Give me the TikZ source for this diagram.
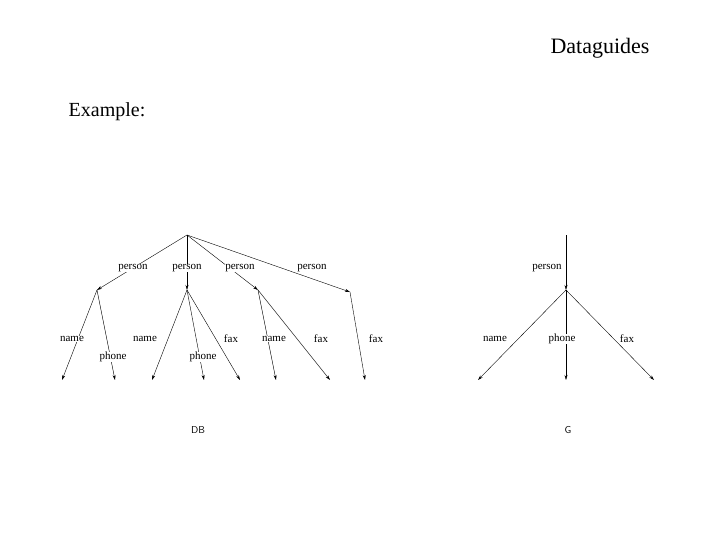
\documentclass[tikz,border=0pt]{standalone}
\usepackage{fontspec}
\usetikzlibrary{arrows.meta}
\setmainfont{Liberation Serif}
\begin{document}
\begin{tikzpicture}[x=1pt,y=-1pt,
  e/.style={-{Stealth[length=5pt,width=3pt]},line width=0.4pt},
  lb/.style={font=\fontsize{11}{12}\selectfont,inner sep=0pt},
  pt/.style={inner sep=0pt,minimum size=0pt}]
\useasboundingbox (0,0) rectangle (720,540);
\node[font=\fontsize{22}{24}\selectfont] (title) at (600,48) {Dataguides};
\node[font=\fontsize{20}{22}\selectfont] (ex) at (107,112) {Example:};
% left tree
\coordinate (r) at (187,235);
\coordinate (a) at (97,290); \coordinate (b) at (187,290);
\coordinate (c) at (258,290); \coordinate (d) at (350,292);
\foreach \n in {a,b,c,d} \draw[e] (r) -- (\n);
\coordinate (l1) at (62,380); \coordinate (l2) at (115,380);
\coordinate (l3) at (152,380); \coordinate (l4) at (204,380); \coordinate (l5) at (240,380);
\coordinate (l6) at (276,380); \coordinate (l7) at (330,380); \coordinate (l8) at (365,380);
\draw[e] (a)--(l1); \draw[e] (a)--(l2);
\draw[e] (b)--(l3); \draw[e] (b)--(l4); \draw[e] (b)--(l5);
\draw[e] (c)--(l6); \draw[e] (c)--(l7); \draw[e] (d)--(l8);
\node[lb,fill=white] (p1) at (133,268) {person};
\node[lb,fill=white] (p2) at (187,268) {person};
\node[lb,fill=white] (p3) at (240,268) {person};
\node[lb,fill=white] (p4) at (312,268) {person};
\node[lb,fill=white] (n1) at (72,339) {name};
\node[lb,fill=white] (h1) at (113,357) {phone};
\node[lb,fill=white] (n2) at (145,339) {name};
\node[lb,fill=white] (h2) at (203,357) {phone};
\node[lb,fill=white] (f1) at (231,339) {fax};
\node[lb,fill=white] (n3) at (274,339) {name};
\node[lb,fill=white] (f2) at (321,339) {fax};
\node[lb,fill=white] (f3) at (376,339) {fax};
% right tree
\coordinate (gr) at (566,235); \coordinate (g) at (566,290);
\coordinate (g1) at (478,380); \coordinate (g2) at (566,380); \coordinate (g3) at (654,380);
\draw[e] (gr)--(g);
\draw[e] (g)--(g1); \draw[e] (g)--(g2); \draw[e] (g)--(g3);
\node[lb,fill=white] (gp) at (547,268) {person};
\node[lb,fill=white] (gn) at (495,339) {name};
\node[lb,fill=white] (gh) at (562,339) {phone};
\node[lb,fill=white] (gf) at (627,339) {fax};
\node[font=\sffamily\fontsize{10}{12}\selectfont] (db) at (198,430) {DB};
\node[font=\sffamily\fontsize{10}{12}\selectfont] (G) at (568,430) {G};
\end{tikzpicture}
\end{document}
